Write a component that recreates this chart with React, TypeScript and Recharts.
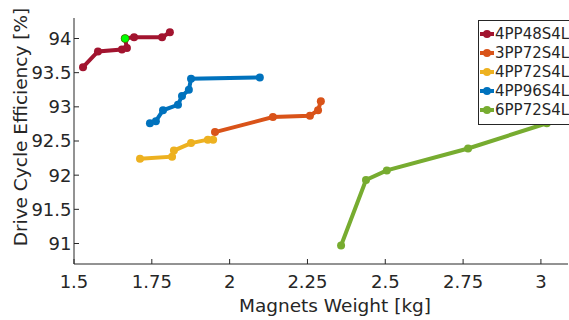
import React from 'react';
import { LineChart, Line, XAxis, YAxis, Legend, Label } from 'recharts';

// Magnets weight [kg] vs drive cycle efficiency [%], one array per machine layout
const s4PP48S4L = [
  { x: 1.529, y: 93.58 },
  { x: 1.577, y: 93.81 },
  { x: 1.654, y: 93.84 },
  { x: 1.670, y: 93.86 },
  { x: 1.664, y: 94.0 },
  { x: 1.693, y: 94.02 },
  { x: 1.783, y: 94.02 },
  { x: 1.808, y: 94.09 },
];

const s3PP72S4L = [
  { x: 1.953, y: 92.63 },
  { x: 2.139, y: 92.85 },
  { x: 2.258, y: 92.87 },
  { x: 2.284, y: 92.95 },
  { x: 2.293, y: 93.08 },
];

const s4PP72S4L = [
  { x: 1.712, y: 92.24 },
  { x: 1.815, y: 92.27 },
  { x: 1.821, y: 92.36 },
  { x: 1.876, y: 92.47 },
  { x: 1.93, y: 92.52 },
  { x: 1.947, y: 92.52 },
];

const s4PP96S4L = [
  { x: 1.744, y: 92.76 },
  { x: 1.763, y: 92.79 },
  { x: 1.786, y: 92.95 },
  { x: 1.834, y: 93.03 },
  { x: 1.847, y: 93.16 },
  { x: 1.869, y: 93.25 },
  { x: 1.876, y: 93.41 },
  { x: 2.097, y: 93.43 },
];

const s6PP72S4L = [
  { x: 2.358, y: 90.97 },
  { x: 2.438, y: 91.93 },
  { x: 2.505, y: 92.07 },
  { x: 2.766, y: 92.39 },
  { x: 3.019, y: 92.76 },
];

// selected design, highlighted in green
const selected = [s4PP48S4L[4]];

const xTicks = [1.5, 1.75, 2, 2.25, 2.5, 2.75, 3];
const yTicks = [91, 91.5, 92, 92.5, 93, 93.5, 94];

const series = [
  { name: '4PP48S4L', data: s4PP48S4L, color: '#A2142F' },
  { name: '3PP72S4L', data: s3PP72S4L, color: '#D95319' },
  { name: '4PP72S4L', data: s4PP72S4L, color: '#EDB120' },
  { name: '4PP96S4L', data: s4PP96S4L, color: '#0072BD' },
  { name: '6PP72S4L', data: s6PP72S4L, color: '#77AC30' },
];

const FONT = '"DejaVu Sans", Verdana, sans-serif';
const INK = '#262626';

// legend built straight from the series list so the order stays fixed
const renderLegend = () => (
  <div
    style={{
      border: '1px solid #262626',
      background: '#fff',
      padding: '3px 10px 5px 1px',
      fontFamily: FONT,
      fontSize: 15,
      color: INK,
    }}
  >
    {series.map((s) => (
      <div key={s.name} style={{ display: 'flex', alignItems: 'center', height: 19 }}>
        <svg width={14} height={10} style={{ marginRight: 1 }}>
          <line x1={0} y1={5} x2={14} y2={5} stroke={s.color} strokeWidth={4} />
          <circle cx={7} cy={5} r={4} fill={s.color} />
        </svg>
        <span>{s.name}</span>
      </div>
    ))}
  </div>
);

export default function App() {
  return (
    <div style={{ position: 'absolute', left: 0, top: 0, width: 569, height: 320, overflow: 'hidden', background: '#fff' }}>
      <LineChart width={569} height={320} margin={{ top: 18, right: 1, left: 0, bottom: 0 }}>
        <XAxis
          dataKey="x"
          type="number"
          domain={[1.5, 3.087]}
          ticks={xTicks}
          allowDataOverflow
          height={56}
          stroke={INK}
          tickSize={-5}
          tickMargin={16}
          tick={{ fill: INK, fontSize: 18, fontFamily: FONT }}
        >
          <Label
            content={() => (
              <text x={335} y={312} textAnchor="middle" fill={INK} fontSize={18.5} fontFamily={FONT}>
                Magnets Weight [kg]
              </text>
            )}
          />
        </XAxis>
        <YAxis
          dataKey="y"
          type="number"
          domain={[90.7, 94.3]}
          ticks={yTicks}
          allowDataOverflow
          width={74}
          stroke={INK}
          tickSize={-5}
          tickMargin={7.5}
          tick={{ fill: INK, fontSize: 18, fontFamily: FONT }}
        >
          <Label
            content={() => (
              <text
                x={27}
                y={127}
                transform="rotate(-90 27 127)"
                textAnchor="middle"
                fill={INK}
                fontSize={18.5}
                fontFamily={FONT}
              >
                Drive Cycle Efficiency [%]
              </text>
            )}
          />
        </YAxis>
        {series.map((s) => (
          <Line
            key={s.name}
            data={s.data}
            dataKey="y"
            name={s.name}
            type="linear"
            stroke={s.color}
            strokeWidth={4}
            dot={{ r: 4, fill: s.color, stroke: s.color, strokeWidth: 0 }}
            activeDot={false}
            isAnimationActive={false}
          />
        ))}
        <Line
          data={selected}
          dataKey="y"
          name="selected"
          stroke="none"
          dot={{ r: 4, fill: '#00FF00', stroke: '#4a4a00', strokeWidth: 0.5 }}
          activeDot={false}
          legendType="none"
          isAnimationActive={false}
        />
        <Legend
          layout="vertical"
          align="center"
          verticalAlign="middle"
          content={renderLegend}
          wrapperStyle={{ position: 'absolute', left: 478, top: 20, width: 'auto' }}
        />
      </LineChart>
    </div>
  );
}
